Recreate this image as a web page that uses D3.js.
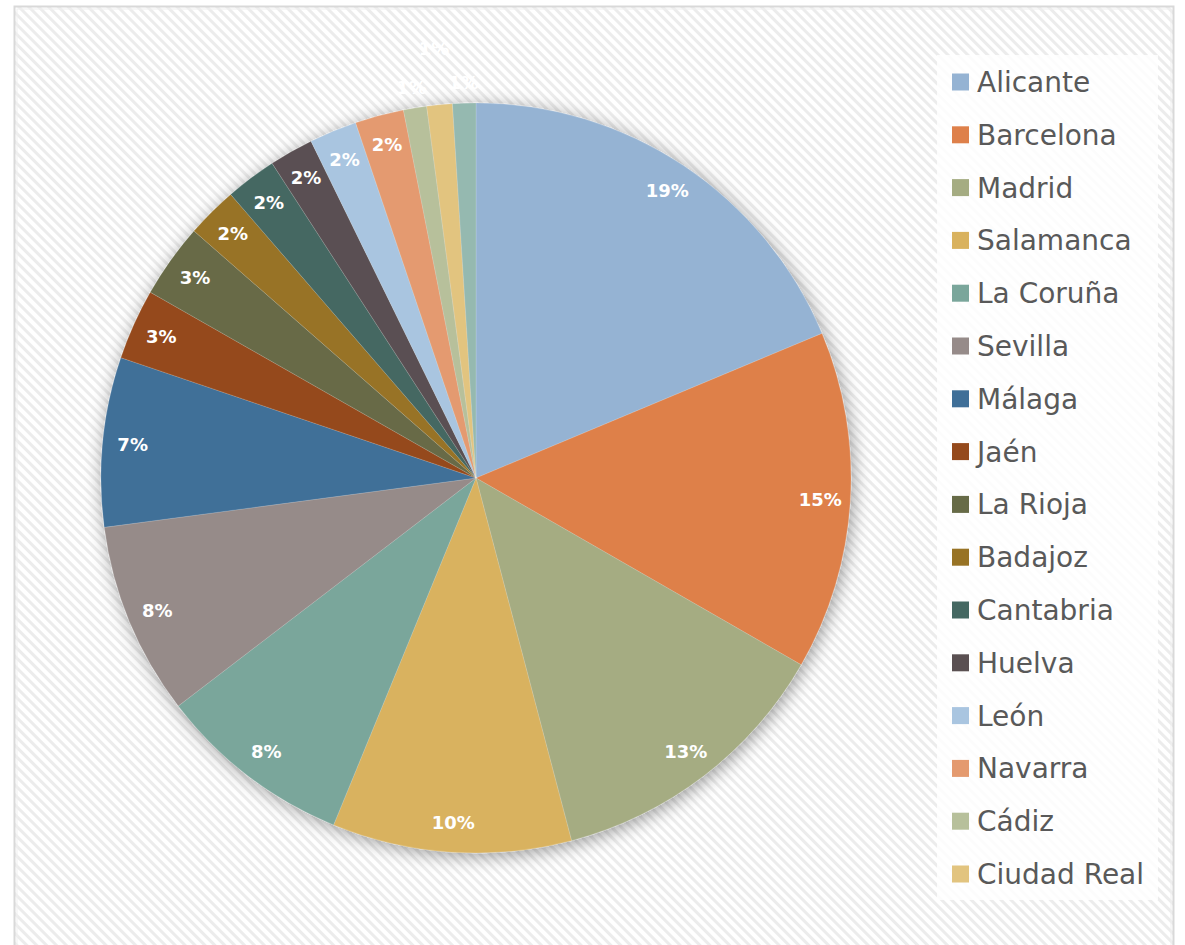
<!DOCTYPE html>
<html>
<head>
<meta charset="utf-8">
<script src="https://cdn.jsdelivr.net/npm/d3@7"></script>
<style>
  body { margin: 0; background: #fff; }
  svg { display: block; }
</style>
</head>
<body>
<div id="chart"></div>
<script>
// data (share of total, %)
var provincias = ["Alicante", "Barcelona", "Madrid", "Salamanca", "La Coruña", "Sevilla", "Málaga",
  "Jaén", "La Rioja", "Badajoz", "Cantabria", "Huelva", "León", "Navarra", "Cádiz", "Ciudad Real", "Otras"];
var valores = [18.7, 14.6, 12.6, 10.3, 8.4, 8.3, 7.3, 3.05, 3.2, 2.2, 2.2, 1.9, 2.05, 2.1, 1.0, 1.1, 1.0];
var colores = ["#95b3d3", "#de804a", "#a5ac82", "#d9b25e", "#7aa69b", "#968b89", "#3f6f98",
  "#954a1c", "#676b47", "#987325", "#456862", "#5a5052", "#a9c5e0", "#e49a6f", "#b7c09b", "#e2c47f", "#95b9b0"];
var enLeyenda = 16; // only 16 entries fit in the legend box

var W = 1185, H = 945;
var cx = 476, cy = 478, r = 375;

var svg = d3.select("#chart").append("svg")
  .attr("width", W).attr("height", H);

var defs = svg.append("defs");

// diagonal stripe background
var pat = defs.append("pattern")
  .attr("id", "rayas")
  .attr("patternUnits", "userSpaceOnUse")
  .attr("width", 7).attr("height", 7)
  .attr("patternTransform", "rotate(-45)");
pat.append("rect").attr("width", 7).attr("height", 7).attr("fill", "#ffffff");
pat.append("rect").attr("width", 3).attr("height", 7).attr("fill", "#ececec");

var sombra = defs.append("filter").attr("id", "sombra")
  .attr("x", "-20%").attr("y", "-20%").attr("width", "140%").attr("height", "140%");
sombra.append("feGaussianBlur").attr("in", "SourceAlpha").attr("stdDeviation", 9).attr("result", "b");
sombra.append("feOffset").attr("in", "b").attr("dx", 2).attr("dy", 3).attr("result", "o");
sombra.append("feComponentTransfer").attr("in", "o").attr("result", "s")
  .append("feFuncA").attr("type", "linear").attr("slope", 0.4);
var mrg = sombra.append("feMerge");
mrg.append("feMergeNode").attr("in", "s");
mrg.append("feMergeNode").attr("in", "SourceGraphic");

// chart area frame
svg.append("rect")
  .attr("x", 14.5).attr("y", 6.5)
  .attr("width", 1159).attr("height", 960)
  .attr("fill", "url(#rayas)")
  .attr("stroke", "#d9d9d9").attr("stroke-width", 2);
svg.append("rect")
  .attr("x", 17).attr("y", 9)
  .attr("width", 1154).attr("height", 960)
  .attr("fill", "none")
  .attr("stroke", "#efefef").attr("stroke-width", 1);

var total = d3.sum(valores);
var datos = provincias.map(function(p, i) {
  return { nombre: p, valor: valores[i], color: colores[i] };
});

var pie = d3.pie().sort(null).value(function(d) { return d.valor; });
var arcos = pie(datos);
var arc = d3.arc().innerRadius(0).outerRadius(r);

var g = svg.append("g").attr("transform", "translate(" + cx + "," + cy + ")");

g.append("g").attr("filter", "url(#sombra)")
  .selectAll("path")
  .data(arcos)
  .enter().append("path")
  .attr("d", arc)
  .attr("fill", function(d) { return d.data.color; })
  .attr("stroke", "rgba(255,255,255,0.25)")
  .attr("stroke-width", 0.6);

// labels: inside for normal slices, outside for the tiny ones
var pequenas = 0;
g.selectAll("text.pct")
  .data(arcos)
  .enter().append("text")
  .attr("class", "pct")
  .attr("transform", function(d) {
    var pct = d.data.valor / total * 100;
    var rr = 345;
    if (pct < 1.5) {
      rr = (pequenas % 2 === 1) ? 432 : 396;
      pequenas++;
    }
    var a = (d.startAngle + d.endAngle) / 2;
    return "translate(" + (Math.sin(a) * rr) + "," + (-Math.cos(a) * rr) + ")";
  })
  .attr("text-anchor", "middle")
  .attr("dy", "0.36em")
  .attr("fill", "#ffffff")
  .style("font-family", "'DejaVu Sans', sans-serif")
  .style("font-weight", "bold")
  .style("font-size", "18px")
  .text(function(d) { return Math.round(d.data.valor / total * 100) + "%"; });

// legend
var ley = svg.append("g");
ley.append("rect")
  .attr("x", 937).attr("y", 55)
  .attr("width", 221).attr("height", 845)
  .attr("fill", "#ffffff").attr("fill-opacity", 0.85);

var paso = 52.8;
var item = ley.selectAll("g.item")
  .data(datos.slice(0, enLeyenda))
  .enter().append("g")
  .attr("class", "item")
  .attr("transform", function(d, i) { return "translate(952," + (82 + i * paso) + ")"; });

item.append("rect")
  .attr("x", 0).attr("y", -8.5)
  .attr("width", 17).attr("height", 17)
  .attr("fill", function(d) { return d.color; });

item.append("text")
  .attr("x", 25).attr("dy", "0.36em")
  .attr("fill", "#595959")
  .style("font-family", "'DejaVu Sans', sans-serif")
  .style("font-size", "28px")
  .text(function(d) { return d.nombre; });
</script>
</body>
</html>
